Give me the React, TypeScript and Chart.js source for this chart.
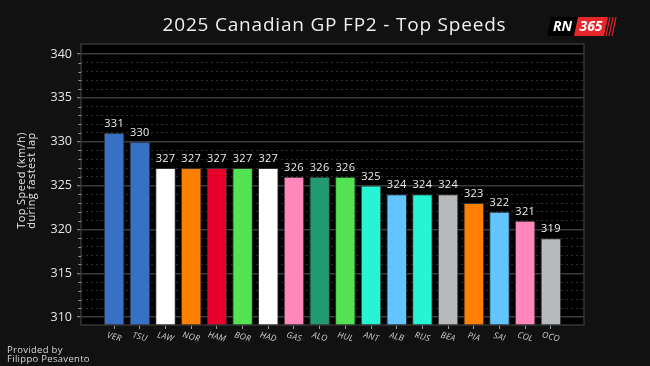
import React, { useEffect, useRef } from 'react';
import { Chart, registerables } from 'chart.js';

Chart.register(...registerables);

const drivers = ['VER', 'TSU', 'LAW', 'NOR', 'HAM', 'BOR', 'HAD', 'GAS', 'ALO', 'HUL', 'ANT', 'ALB', 'RUS', 'BEA', 'PIA', 'SAI', 'COL', 'OCO'];
const topSpeeds = [331, 330, 327, 327, 327, 327, 327, 326, 326, 326, 325, 324, 324, 324, 323, 322, 321, 319];
const barColors = [
  '#3671C6', '#3671C6', '#FFFFFF', '#FF8000', '#E8002D', '#52E252', '#FFFFFF', '#FF87BC', '#229971',
  '#52E252', '#27F4D2', '#64C4FF', '#27F4D2', '#B6BABD', '#FF8000', '#64C4FF', '#FF87BC', '#B6BABD',
];
const yMajorTicks = [310, 315, 320, 325, 330, 335, 340];
const yMinorStep = 1;
const yMin = 309.1;
const yMax = 341.14;
const xMin = -1.29;
const xMax = 18.29;

const titleText = '2025 Canadian GP FP2 - Top Speeds';
const yTitleLines = ['Top Speed (km/h)', 'during fastest lap'];
const creditLines = ['Provided by', 'Filippo Pesavento'];
const FONT = '"Open Sans", "DejaVu Sans", sans-serif';

const yAllTicks: number[] = [];
for (let v = yMajorTicks[0]; v <= yMajorTicks[yMajorTicks.length - 1]; v += yMinorStep) yAllTicks.push(v);

const isMajor = (v: number) => yMajorTicks.includes(v);

const decorPlugin = {
  id: 'decor',
  beforeDraw(chart: any) {
    const { ctx, chartArea } = chart;
    ctx.save();
    ctx.fillStyle = '#111111';
    ctx.fillRect(0, 0, chart.width, chart.height);
    ctx.fillStyle = '#000000';
    ctx.fillRect(chartArea.left, chartArea.top, chartArea.right - chartArea.left, chartArea.bottom - chartArea.top);
    ctx.restore();
  },
  afterDraw(chart: any) {
    const { ctx, chartArea } = chart;
    const xs = chart.scales.x;
    const ys = chart.scales.y;
    ctx.save();

    // frame
    ctx.strokeStyle = '#363636';
    ctx.lineWidth = 1.5;
    ctx.strokeRect(chartArea.left, chartArea.top, chartArea.right - chartArea.left, chartArea.bottom - chartArea.top);

    // minor y tick marks
    ctx.strokeStyle = '#9a9a9a';
    ctx.lineWidth = 1;
    yAllTicks.forEach((v) => {
      if (isMajor(v)) return;
      const y = Math.round(ys.getPixelForValue(v)) + 0.5;
      ctx.beginPath();
      ctx.moveTo(chartArea.left - 2.5, y);
      ctx.lineTo(chartArea.left, y);
      ctx.stroke();
    });

    // value labels
    const meta = chart.getDatasetMeta(0);
    ctx.fillStyle = '#eeeeee';
    ctx.font = `11px ${FONT}`;
    ctx.textAlign = 'center';
    ctx.textBaseline = 'alphabetic';
    (ctx as any).letterSpacing = '0.3px';
    meta.data.forEach((bar: any, i: number) => {
      ctx.fillText(String(topSpeeds[i]), bar.x, bar.y - 6);
    });

    // x labels (rotated clockwise)
    ctx.fillStyle = '#d0d0d0';
    ctx.font = `italic 8.5px ${FONT}`;
    (ctx as any).letterSpacing = '0.2px';
    drivers.forEach((d, i) => {
      const x = xs.getPixelForValue(i);
      ctx.save();
      ctx.translate(x, 337);
      ctx.rotate((15 * Math.PI) / 180);
      ctx.textAlign = 'center';
      ctx.textBaseline = 'middle';
      ctx.fillText(d, 0, 0);
      ctx.restore();
    });

    // title
    ctx.fillStyle = '#f0f0f0';
    ctx.font = `19px ${FONT}`;
    (ctx as any).letterSpacing = '0.8px';
    ctx.textAlign = 'center';
    ctx.textBaseline = 'alphabetic';
    ctx.fillText(titleText, 334.5, 31);

    // y title
    ctx.save();
    ctx.translate(0, (chartArea.top + chartArea.bottom) / 2 - 4);
    ctx.rotate(-Math.PI / 2);
    ctx.fillStyle = '#e6e6e6';
    ctx.font = `11px ${FONT}`;
    (ctx as any).letterSpacing = '0.4px';
    ctx.textAlign = 'center';
    ctx.textBaseline = 'middle';
    ctx.fillText(yTitleLines[0], 0, 22);
    ctx.fillText(yTitleLines[1], 0, 31.5);
    ctx.restore();

    // credits
    ctx.fillStyle = '#d8d8d8';
    ctx.font = `9.5px ${FONT}`;
    (ctx as any).letterSpacing = '0.3px';
    ctx.textAlign = 'left';
    ctx.textBaseline = 'alphabetic';
    ctx.fillText(creditLines[0], 7, 353);
    ctx.fillText(creditLines[1], 7, 362);
    (ctx as any).letterSpacing = '0px';

    // logo
    ctx.fillStyle = '#000000';
    ctx.beginPath();
    ctx.moveTo(551, 17);
    ctx.lineTo(578, 17);
    ctx.lineTo(574, 36);
    ctx.lineTo(547, 36);
    ctx.closePath();
    ctx.fill();
    ctx.fillStyle = '#E8262A';
    ctx.beginPath();
    ctx.moveTo(578, 17);
    ctx.lineTo(608, 17);
    ctx.lineTo(604, 36);
    ctx.lineTo(574, 36);
    ctx.closePath();
    ctx.fill();
    ctx.strokeStyle = '#E8262A';
    ctx.lineWidth = 1.2;
    [610, 613, 616].forEach((sx) => {
      ctx.beginPath();
      ctx.moveTo(sx, 17);
      ctx.lineTo(sx - 4, 36);
      ctx.stroke();
    });
    ctx.fillStyle = '#ffffff';
    ctx.font = `italic bold 14px ${FONT}`;
    ctx.textAlign = 'center';
    ctx.textBaseline = 'middle';
    ctx.fillText('RN', 562.5, 27);
    ctx.fillText('365', 591, 27);

    ctx.restore();
  },
};

export default function App() {
  const canvasRef = useRef<HTMLCanvasElement | null>(null);

  useEffect(() => {
    document.body.style.margin = '0';
    document.body.style.background = '#111111';
    const canvas = canvasRef.current;
    if (!canvas) return;
    const chart = new Chart(canvas, {
      type: 'bar',
      data: {
        datasets: [
          {
            data: topSpeeds.map((v, i) => ({ x: i, y: v })),
            backgroundColor: barColors,
            borderColor: '#333333',
            borderWidth: 1,
            borderSkipped: false,
            categoryPercentage: 0.8,
            barPercentage: 1,
          } as any,
        ],
      },
      options: {
        responsive: false,
        animation: false,
        devicePixelRatio: 1,
        layout: { padding: { top: 44, right: 66, left: 0, bottom: 0 } },
        plugins: {
          legend: { display: false },
          tooltip: { enabled: false },
          title: { display: false },
        },
        scales: {
          x: {
            type: 'linear',
            min: xMin,
            max: xMax,
            offset: false,
            afterBuildTicks: (s: any) => {
              s.ticks = drivers.map((_, i) => ({ value: i }));
            },
            afterFit: (s: any) => {
              s.height = 41;
            },
            ticks: { display: false },
            grid: {
              offset: false,
              drawOnChartArea: false,
              drawTicks: true,
              tickLength: 4,
              tickColor: '#9a9a9a',
              tickWidth: 1,
            },
            border: { display: false },
          },
          y: {
            type: 'linear',
            min: yMin,
            max: yMax,
            afterBuildTicks: (s: any) => {
              s.ticks = yAllTicks.map((v) => ({ value: v }));
            },
            afterFit: (s: any) => {
              s.width = 81;
            },
            ticks: {
              autoSkip: false,
              color: '#e6e6e6',
              font: { family: FONT, size: 12.5 },
              padding: 5,
              callback: (v: any) => (isMajor(Number(v)) ? String(v) : ''),
            },
            grid: {
              color: (c: any) => (c.tick && isMajor(c.tick.value) ? '#3c3c3c' : '#303030'),
              lineWidth: (c: any) => (c.tick && isMajor(c.tick.value) ? 1.5 : 1),
              tickColor: (c: any) => (c.tick && isMajor(c.tick.value) ? '#9a9a9a' : 'rgba(0,0,0,0)'),
              tickLength: 4,
              tickWidth: 1,
            },
            border: {
              display: false,
              dash: (c: any) => (c.tick && isMajor(c.tick.value) ? [] : [2, 3]),
            } as any,
          },
        },
      } as any,
      plugins: [decorPlugin],
    });
    return () => chart.destroy();
  }, []);

  return (
    <div style={{ width: 650, height: 366, background: '#111111' }}>
      <canvas ref={canvasRef} width={650} height={366} style={{ display: 'block', width: 650, height: 366 }} />
    </div>
  );
}
